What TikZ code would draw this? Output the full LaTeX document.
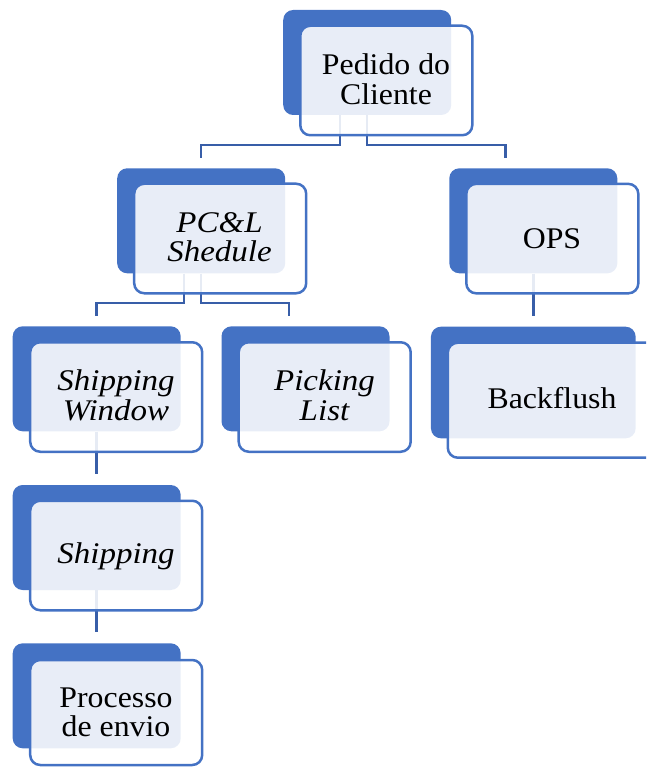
\documentclass[tikz,border=0pt]{standalone}
\usepackage{fontspec}
\setmainfont{Liberation Serif}[FakeStretch=1.06]
\newfontfamily\itf{Liberation Serif Italic}[FakeStretch=1.1]
\usetikzlibrary{calc}
\definecolor{accent}{HTML}{4472C4}
\definecolor{connc}{RGB}{56,94,168}
\tikzset{
  bluebox/.style={fill=accent, draw=none, rounded corners=10pt, inner sep=0pt,
    minimum width=168pt, minimum height=105pt},
  outbox/.style={draw=accent, line width=2.5pt, fill=white, fill opacity=0.88,
    rounded corners=10pt, inner sep=0pt, minimum width=172pt, minimum height=109.5pt},
  conn/.style={draw=connc, line width=2.5pt},
  lbl/.style={anchor=base, align=center, inner sep=0pt, text=black,
    font=\fontsize{30}{29.5}\selectfont},
}
\begin{document}
\begin{tikzpicture}[x=1pt, y=-1pt]
\clip (0,0) rectangle (646,767);
% back (blue) boxes
\node[bluebox] (b1) at (367.2,62.5) {};
\node[bluebox] (b2) at (201.2,220.8) {};
\node[bluebox] (b3) at (533.3,220.8) {};
\node[bluebox] (b4) at (96.7,378.8) {};
\node[bluebox] (b5) at (305.5,378.8) {};
\node[bluebox, minimum width=204.7pt, minimum height=111.6pt] (b7) at (533.3,382.5) {};
\node[bluebox] (b6) at (96.7,537.5) {};
\node[bluebox] (b8) at (96.7,695.8) {};
% connectors
\draw[conn] ([xshift=-27pt]b1.south) -- ++(0,30) -| ([yshift=10.5pt]b2.north);
\draw[conn] (b1.south) -- ++(0,30) -| ([xshift=-28pt,yshift=10.5pt]b3.north);
\draw[conn] ([xshift=-17pt]b2.south) -- ++(0,29.5) -| ([yshift=10.3pt]b4.north);
\draw[conn] (b2.south) -- ++(0,29.5) -| ([xshift=-16.5pt,yshift=10.3pt]b5.north);
\draw[conn] (b3.south) -- ([yshift=10.7pt]b7.north);
\draw[conn] (b4.south) -- ([yshift=10.7pt]b6.north);
\draw[conn] (b6.south) -- ([yshift=10.7pt]b8.north);
% front (outlined) boxes
\node[outbox] (o1) at (386.3,80.5) {};
\node[outbox] (o2) at (220.2,238.5) {};
\node[outbox] (o3) at (552.3,238.6) {};
\node[outbox] (o4) at (116.2,397) {};
\node[outbox] (o5) at (324.7,397) {};
\node[outbox, minimum width=209pt, minimum height=115pt] (o7) at (552.3,400.2) {};
\node[outbox] (o6) at (116.2,555.5) {};
\node[outbox, minimum height=105pt] (o8) at (116.2,712.5) {};
% labels (base anchor = last line's baseline)
\node[lbl] (t1) at (386,104.3) {Pedido do\\Cliente};
\node[lbl] (t2) at (219.5,261.7) {\itf PC\&L\\\itf Shedule};
\node[lbl] (t3) at (552,248) {OPS};
\node[lbl] (t4) at (116,420) {\itf Shipping\\\itf Window};
\node[lbl] (t5) at (324.5,420) {\itf Picking\\\itf List};
\node[lbl] (t7) at (552,408.3) {Backflush};
\node[lbl] (t6) at (116,563) {\itf Shipping};
\node[lbl] (t8) at (116,736.7) {Processo\\de envio};
\end{tikzpicture}
\end{document}
